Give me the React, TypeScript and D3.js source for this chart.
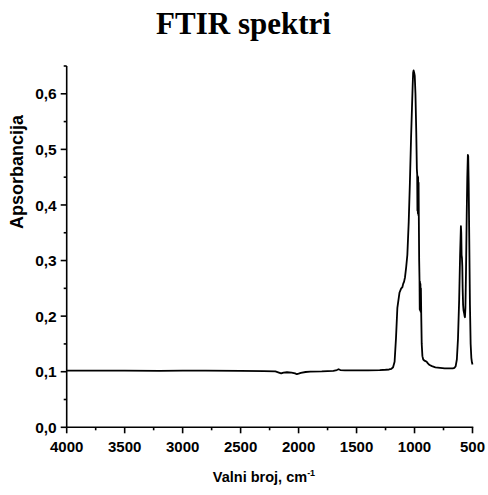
import React from "react";
import * as d3 from "d3";

const wavenumbers = [
  4000, 3800, 3500, 3200, 3000, 2800, 2500, 2300, 2200, 2170, 2150, 2130, 2100, 2060, 2030, 2015, 2000, 1980,
  1940, 1900, 1800, 1700, 1670, 1655, 1640, 1600, 1500, 1400, 1300, 1250, 1220, 1200, 1185, 1172, 1160, 1148,
  1130, 1115, 1105, 1098, 1090, 1082, 1072, 1062, 1050, 1040, 1030, 1022, 1016, 1012, 1008, 1003, 998, 992,
  985, 980, 977, 975, 973, 971, 969, 967, 965, 963, 960, 957, 955, 953, 951, 949, 947, 945, 942, 938, 932,
  925, 915, 905, 895, 885, 870, 850, 820, 780, 740, 700, 670, 655, 645, 635, 625, 615, 607, 600, 597, 594,
  591, 588, 585, 581, 577, 572, 568, 565, 561, 556, 550, 545, 540, 537, 533, 528, 522, 516, 510, 505, 500,
];

const absorbance = [
  0.102, 0.102, 0.102, 0.1015, 0.102, 0.102, 0.1015, 0.101, 0.1005, 0.0985, 0.097, 0.0985, 0.099, 0.0985, 0.097,
  0.0955, 0.0965, 0.098, 0.0995, 0.1, 0.1005, 0.1015, 0.103, 0.1045, 0.103, 0.1025, 0.1025, 0.1025, 0.103,
  0.1035, 0.104, 0.105, 0.108, 0.118, 0.16, 0.215, 0.242, 0.25, 0.252, 0.258, 0.262, 0.27, 0.288, 0.31, 0.37,
  0.44, 0.52, 0.575, 0.615, 0.638, 0.642, 0.638, 0.632, 0.6, 0.53, 0.465, 0.455, 0.39, 0.452, 0.385, 0.45,
  0.382, 0.44, 0.378, 0.3, 0.265, 0.212, 0.262, 0.21, 0.258, 0.208, 0.25, 0.2, 0.15, 0.128, 0.122, 0.12,
  0.119, 0.118, 0.115, 0.112, 0.11, 0.108, 0.107, 0.106, 0.106, 0.106, 0.107, 0.11, 0.122, 0.16, 0.23, 0.31,
  0.362, 0.35, 0.31, 0.305, 0.29, 0.25, 0.22, 0.21, 0.205, 0.2, 0.198, 0.215, 0.28, 0.38, 0.45, 0.49, 0.488,
  0.44, 0.34, 0.22, 0.15, 0.125, 0.117, 0.113,
];

const xMajorTicks = [4000, 3500, 3000, 2500, 2000, 1500, 1000, 500];
const xMinorTicks = [3750, 3250, 2750, 2250, 1750, 1250, 750];
const yMajorTicks = [0, 0.1, 0.2, 0.3, 0.4, 0.5, 0.6];
const yMinorTicks = [0.05, 0.15, 0.25, 0.35, 0.45, 0.55, 0.65];

const W = 488;
const H = 495;
const left = 66.7;
const right = 472.5;
const top = 66;
const bottom = 427.3;

export default function App() {
  const x = d3.scaleLinear().domain([4000, 500]).range([left, right]);
  const y = d3.scaleLinear().domain([0, 0.65]).range([bottom, top]);
  const pts = wavenumbers.map((w, i) => [w, absorbance[i]] as [number, number]);
  const line = d3
    .line<[number, number]>()
    .x((d) => x(d[0]))
    .y((d) => y(d[1]));
  const fmt = (v: number) => d3.format(".1f")(v).replace(".", ",");
  const sans = "'Liberation Sans', Arial, sans-serif";

  return (
    <svg
      width={W}
      height={H}
      style={{ position: "absolute", left: 0, top: 0, background: "#fff" }}
    >
      <text
        x={243.5}
        y={33.5}
        textAnchor="middle"
        fontFamily="'Liberation Serif', 'Times New Roman', serif"
        fontWeight="bold"
        fontSize={31}
        fill="#000"
      >
        FTIR spektri
      </text>

      {/* axes lines */}
      <line x1={left} x2={left} y1={top} y2={bottom} stroke="#000" strokeWidth={1.6} />
      <line x1={left} x2={right + 0.8} y1={bottom} y2={bottom} stroke="#000" strokeWidth={1.6} />

      {/* y ticks */}
      {yMajorTicks.map((t) => (
        <g key={"ym" + t}>
          <line x1={left - 6} x2={left} y1={y(t)} y2={y(t)} stroke="#000" strokeWidth={1.6} />
          <text
            x={left - 10}
            y={y(t)}
            dy="0.36em"
            textAnchor="end"
            fontFamily={sans}
            fontWeight="bold"
            fontSize={15.5}
            fill="#000"
          >
            {fmt(t)}
          </text>
        </g>
      ))}
      {yMinorTicks.map((t) => (
        <line key={"yn" + t} x1={left - 3} x2={left} y1={y(t)} y2={y(t)} stroke="#000" strokeWidth={1.6} />
      ))}

      {/* x ticks */}
      {xMajorTicks.map((t) => (
        <g key={"xm" + t}>
          <line x1={x(t)} x2={x(t)} y1={bottom} y2={bottom + 6} stroke="#000" strokeWidth={1.6} />
          <text
            x={x(t)}
            y={451.5}
            textAnchor="middle"
            fontFamily={sans}
            fontWeight="bold"
            fontSize={15}
            fill="#000"
          >
            {t}
          </text>
        </g>
      ))}
      {xMinorTicks.map((t) => (
        <line key={"xn" + t} x1={x(t)} x2={x(t)} y1={bottom} y2={bottom + 3} stroke="#000" strokeWidth={1.6} />
      ))}

      {/* axis titles */}
      <text
        x={264}
        y={481.5}
        textAnchor="middle"
        fontFamily={sans}
        fontWeight="bold"
        fontSize={14.5}
        fill="#000"
      >
        Valni broj, cm
        <tspan dy={-6} fontSize={9}>
          -1
        </tspan>
      </text>
      <text
        transform={`translate(23,172) rotate(-90)`}
        textAnchor="middle"
        fontFamily={sans}
        fontWeight="bold"
        fontSize={18}
        fill="#000"
      >
        Apsorbancija
      </text>

      {/* spectrum */}
      <path d={line(pts) || ""} fill="none" stroke="#000" strokeWidth={1.8} strokeLinejoin="round" />
    </svg>
  );
}
